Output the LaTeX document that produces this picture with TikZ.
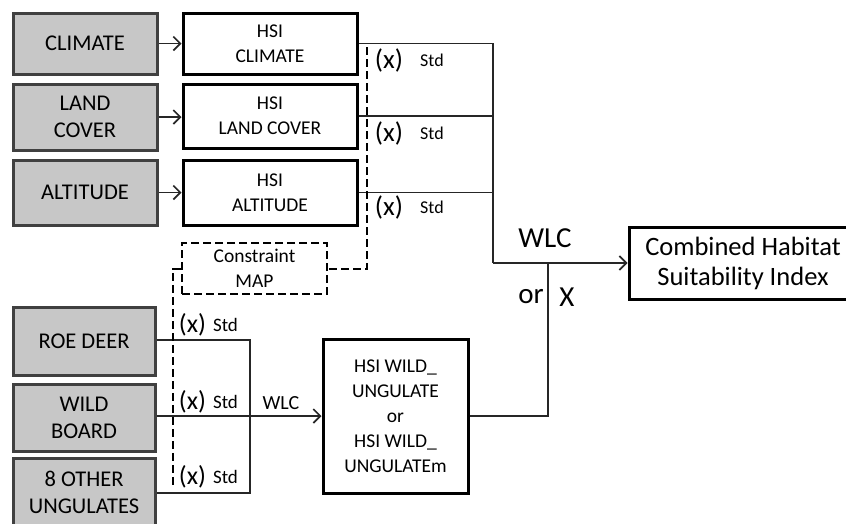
\documentclass[tikz,border=0pt]{standalone}
\usepackage{fontspec}
\setmainfont{Carlito}
\usetikzlibrary{arrows.meta}
\tikzset{
  inbox/.style={draw=black!75, fill=black!22, line width=3pt, font=\fontsize{22.5}{27}\selectfont, align=center, inner sep=0pt, text=black},
  hsibox/.style={draw=black, fill=white, line width=3pt, font=\fontsize{19.5}{25}\selectfont, align=center, inner sep=0pt, text=black},
  cmbbox/.style={draw=black, fill=white, line width=3pt, font=\fontsize{26.5}{30}\selectfont, align=center, inner sep=0pt, text=black},
  cstbox/.style={draw=black, line width=2.8pt, dash pattern=on 8pt off 4pt, font=\fontsize{19.5}{25}\selectfont, align=center, inner sep=0pt, text=black},
  conn/.style={line width=1.7pt, black!85},
  arr/.style={conn, -{Straight Barb[length=7pt,width=14pt,line width=1.7pt]}},
  dsh/.style={line width=2pt, dash pattern=on 8pt off 4pt},
  xlbl/.style={font=\fontsize{27}{27}\selectfont, inner sep=0pt, text=black},
  xlblb/.style={font=\fontsize{26}{26}\selectfont, inner sep=0pt, text=black},
  stdtop/.style={font=\fontsize{18}{18}\selectfont, inner sep=0pt, text=black},
  stdbot/.style={font=\fontsize{19}{19}\selectfont, inner sep=0pt, text=black},
  wlcbot/.style={font=\fontsize{20}{20}\selectfont, inner sep=0pt, text=black},
  biglbl/.style={font=\fontsize{29}{29}\selectfont, inner sep=0pt, text=black},
}
\begin{document}
\begin{tikzpicture}[x=1pt,y=-1pt]
\useasboundingbox (0,0) rectangle (846,523);
% input boxes
\node[inbox, minimum width=144pt, minimum height=61pt] (climate) at (85,43.5) {CLIMATE};
\node[inbox, minimum width=144pt, minimum height=66pt] (land) at (85,117) {LAND\\COVER};
\node[inbox, minimum width=144pt, minimum height=65pt] (alt) at (85,192.5) {ALTITUDE};
\node[inbox, minimum width=142pt, minimum height=68pt] (roe) at (84,341) {ROE DEER};
\node[inbox, minimum width=142pt, minimum height=67pt] (boar) at (84,417.5) {WILD\\BOARD};
\node[inbox, minimum width=142pt, minimum height=68pt] (other) at (84,492) {8 OTHER\\UNGULATES};
% HSI boxes
\node[hsibox, minimum width=174pt, minimum height=61pt] (hclim) at (270,43.5) {HSI\\CLIMATE};
\node[hsibox, minimum width=174pt, minimum height=64pt] (hland) at (270,116) {HSI\\LAND COVER};
\node[hsibox, minimum width=174pt, minimum height=65pt] (halt) at (270,192.5) {HSI\\ALTITUDE};
\node[cstbox, minimum width=145pt, minimum height=51pt] (cst) at (254.5,268.5) {Constraint\\MAP};
\node[hsibox, minimum width=145pt, minimum height=154pt] (hwild) at (395.5,416) {HSI WILD\_\\UNGULATE\\or\\HSI WILD\_\\UNGULATEm};
\node[cmbbox, minimum width=228pt, minimum height=72pt] (comb) at (743,263) {Combined Habitat\\Suitability Index};
% arrows inputs -> HSI
\draw[arr] (climate.east) -- (hclim.west);
\draw[arr] (land.east) -- (land.east -| hland.west);
\draw[arr] (alt.east) -- (halt.west);
% WLC junction
\coordinate (j) at (493,263);
\draw[conn] (hclim.east) -| (j);
\draw[conn] (hland.east) -- (hland.east -| j);
\draw[conn] (halt.east) -- (halt.east -| j);
\draw[arr] (j) -- (comb.west);
% wild ungulates
\coordinate (wv) at (250,340);
\coordinate (wb) at (250,493);
\draw[conn] (roe.east |- wv) -- (wv) -- (wb) -- (wb -| other.east);
\draw[arr] (boar.east |- hwild.west) -- (hwild.west);
\coordinate (ju) at (548,416);
\draw[conn] (hwild.east) -- (ju) -- (ju |- j);
% constraint dashed
\coordinate (d1) at (367,47);
\coordinate (d2) at (173,488);
\draw[dsh] (d1) -- (d1 |- cst.east) -- (cst.east);
\draw[dsh] (cst.west) -- (cst.west -| d2) -- (d2);
% labels top
\node[xlbl] (x1) at (389,60) {(x)};
\node[stdtop] (s1) at (432,60) {Std};
\node[xlbl] (x2) at (389,133) {(x)};
\node[stdtop] (s2) at (432,133) {Std};
\node[xlbl] (x3) at (389,207) {(x)};
\node[stdtop] (s3) at (432,207) {Std};
% labels bottom
\node[xlblb] (x4) at (192.5,325) {(x)};
\node[stdbot] (s4) at (225.5,325) {Std};
\node[xlblb] (x5) at (192.5,402) {(x)};
\node[stdbot] (s5) at (225.5,402) {Std};
\node[xlblb] (x6) at (192.5,477) {(x)};
\node[stdbot] (s6) at (225.5,477) {Std};
\node[wlcbot] (wlc2) at (281,403) {WLC};
% big labels
\node[biglbl] (wlc1) at (545,238) {WLC};
\node[biglbl] (or) at (531,297) {or};
\node[biglbl] (xx) at (567,297) {X};
\end{tikzpicture}
\end{document}
